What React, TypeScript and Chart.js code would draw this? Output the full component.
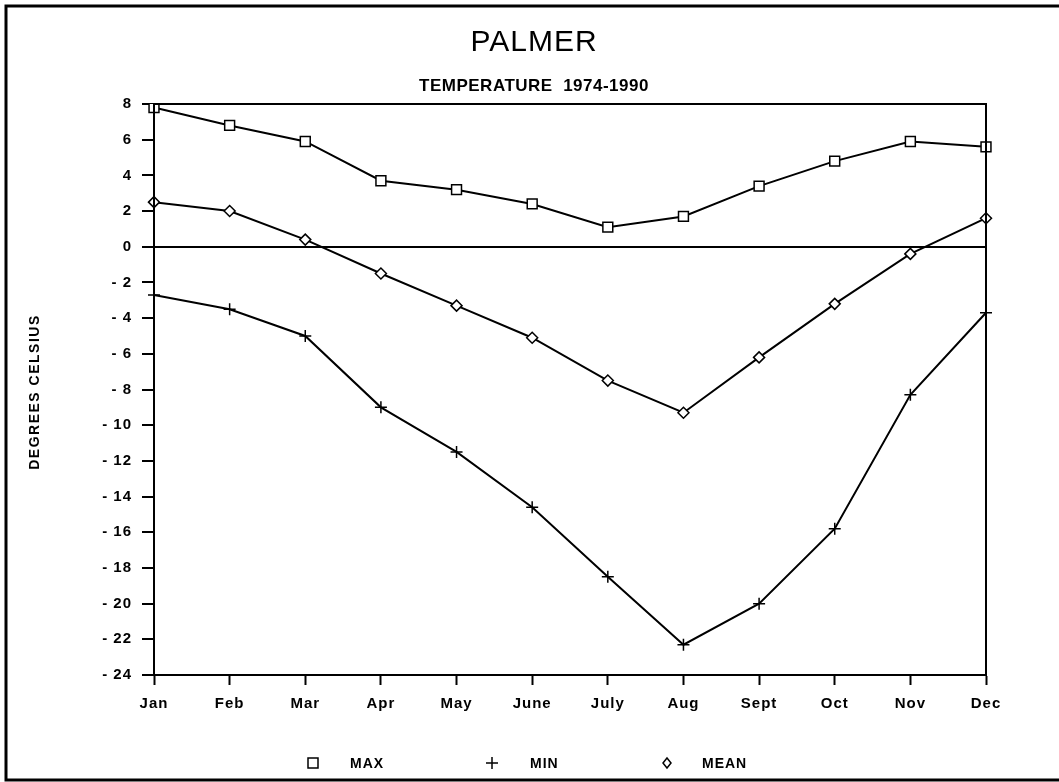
import React, { useEffect, useRef } from "react";
import { Chart, registerables } from "chart.js";

Chart.register(...registerables);

const months = ["Jan", "Feb", "Mar", "Apr", "May", "June", "July", "Aug", "Sept", "Oct", "Nov", "Dec"];
const maxTemps = [7.8, 6.8, 5.9, 3.7, 3.2, 2.4, 1.1, 1.7, 3.4, 4.8, 5.9, 5.6];
const minTemps = [-2.7, -3.5, -5.0, -9.0, -11.5, -14.6, -18.5, -22.3, -20.0, -15.8, -8.3, -3.7];
const meanTemps = [2.5, 2.0, 0.4, -1.5, -3.3, -5.1, -7.5, -9.3, -6.2, -3.2, -0.4, 1.6];
const seriesNames = ["MAX", "MIN", "MEAN"];
const yMin = -24;
const yMax = 8;
const yStep = 2;
const titleText = "PALMER";
const subtitleText = "TEMPERATURE  1974-1990";
const yAxisTitle = "DEGREES CELSIUS";

const W = 1059;
const H = 782;

const decorPlugin = {
  id: "decor",
  beforeDraw(chart: any) {
    const ctx = chart.ctx;
    ctx.save();
    ctx.fillStyle = "#fff";
    ctx.fillRect(0, 0, W, H);
    ctx.restore();
    ctx.letterSpacing = "1px";
  },
  afterDraw(chart: any) {
    const ctx = chart.ctx as CanvasRenderingContext2D;
    const a = chart.chartArea;
    ctx.save();
    ctx.letterSpacing = "0px";
    // outer frame
    ctx.strokeStyle = "#000";
    ctx.lineWidth = 3;
    ctx.beginPath();
    ctx.moveTo(W + 5, 6);
    ctx.lineTo(6, 6);
    ctx.lineTo(6, 780);
    ctx.lineTo(W + 5, 780);
    ctx.stroke();
    // plot box
    ctx.lineWidth = 2;
    ctx.strokeRect(a.left, a.top, a.right - a.left, a.bottom - a.top);

    ctx.fillStyle = "#000";
    ctx.textAlign = "center";
    ctx.textBaseline = "alphabetic";
    ctx.font = "300 30px 'Liberation Sans'";
    ctx.letterSpacing = "1px";
    ctx.fillText(titleText, 534, 51);
    ctx.font = "bold 17px 'Liberation Sans'";
    ctx.letterSpacing = "0.5px";
    ctx.fillText(subtitleText, 534, 91);

    // y axis title
    ctx.save();
    ctx.translate(35, 392);
    ctx.rotate(-Math.PI / 2);
    ctx.font = "bold 14px 'Liberation Sans'";
    ctx.letterSpacing = "1.5px";
    ctx.textBaseline = "middle";
    ctx.fillText(yAxisTitle, 0, 0);
    ctx.restore();

    // legend
    const ly = 763;
    const items = [
      { x: 313, tx: 350, style: "rect" },
      { x: 492, tx: 530, style: "cross" },
      { x: 667, tx: 702, style: "rectRot" },
    ];
    ctx.font = "bold 14px 'Liberation Sans'";
    ctx.letterSpacing = "1px";
    ctx.textAlign = "left";
    ctx.textBaseline = "middle";
    ctx.lineWidth = 1.5;
    items.forEach((it, i) => {
      ctx.beginPath();
      if (it.style === "rect") {
        ctx.rect(it.x - 5, ly - 5, 10, 10);
      } else if (it.style === "cross") {
        ctx.moveTo(it.x - 6, ly);
        ctx.lineTo(it.x + 6, ly);
        ctx.moveTo(it.x, ly - 6);
        ctx.lineTo(it.x, ly + 6);
      } else {
        ctx.moveTo(it.x, ly - 5);
        ctx.lineTo(it.x + 4, ly);
        ctx.lineTo(it.x, ly + 5);
        ctx.lineTo(it.x - 4, ly);
        ctx.closePath();
      }
      ctx.stroke();
      ctx.fillText(seriesNames[i], it.tx, ly + 1);
    });
    ctx.restore();
  },
};

export default function App() {
  const ref = useRef<HTMLCanvasElement | null>(null);
  useEffect(() => {
    document.body.style.margin = "0";
    const canvas = ref.current;
    if (!canvas) return;
    const common = {
      borderColor: "#000",
      borderWidth: 2,
      tension: 0,
      pointBackgroundColor: "#fff",
      pointBorderColor: "#000",
      pointBorderWidth: 1.5,
      fill: false,
    };
    const chart = new Chart(canvas, {
      type: "line",
      data: {
        labels: months,
        datasets: [
          { ...common, label: seriesNames[0], data: maxTemps, pointStyle: "rect", pointRadius: 7 },
          { ...common, label: seriesNames[1], data: minTemps, pointStyle: "cross", pointRadius: 6 },
          { ...common, label: seriesNames[2], data: meanTemps, pointStyle: "rectRot", pointRadius: 5.5 },
        ],
      },
      options: {
        responsive: false,
        animation: false,
        devicePixelRatio: 1,
        layout: { padding: { top: 104, right: 73, left: 0, bottom: 0 } },
        plugins: {
          legend: { display: false },
          title: { display: false },
          tooltip: { enabled: false },
        },
        scales: {
          x: {
            type: "category",
            offset: false,
            afterFit: (s: any) => {
              s.height = 107;
            },
            grid: {
              drawOnChartArea: false,
              drawTicks: true,
              tickLength: 10,
              tickColor: "#000",
              tickWidth: 2,
            },
            border: { display: true, color: "#000", width: 2 },
            ticks: {
              autoSkip: false,
              maxRotation: 0,
              padding: 10,
              color: "#000",
              font: { family: "'Liberation Sans'", size: 15, weight: "bold" },
            },
          },
          y: {
            min: yMin,
            max: yMax,
            afterFit: (s: any) => {
              s.width = 154;
            },
            grid: {
              drawOnChartArea: true,
              color: (c: any) => (c.tick && c.tick.value === 0 ? "#000" : "rgba(0,0,0,0)"),
              lineWidth: 2,
              tickLength: 12,
              tickColor: "#000",
              tickWidth: 2,
            },
            border: { display: true, color: "#000", width: 2 },
            ticks: {
              stepSize: yStep,
              padding: 10,
              color: "#000",
              font: { family: "'Liberation Sans'", size: 15, weight: "bold" },
              callback: (v: any) => (Number(v) < 0 ? "- " + Math.abs(Number(v)) : String(v)),
            },
          },
        },
      },
      plugins: [decorPlugin],
    } as any);
    return () => chart.destroy();
  }, []);
  return <canvas ref={ref} width={W} height={H} style={{ display: "block", width: W, height: H }} />;
}
